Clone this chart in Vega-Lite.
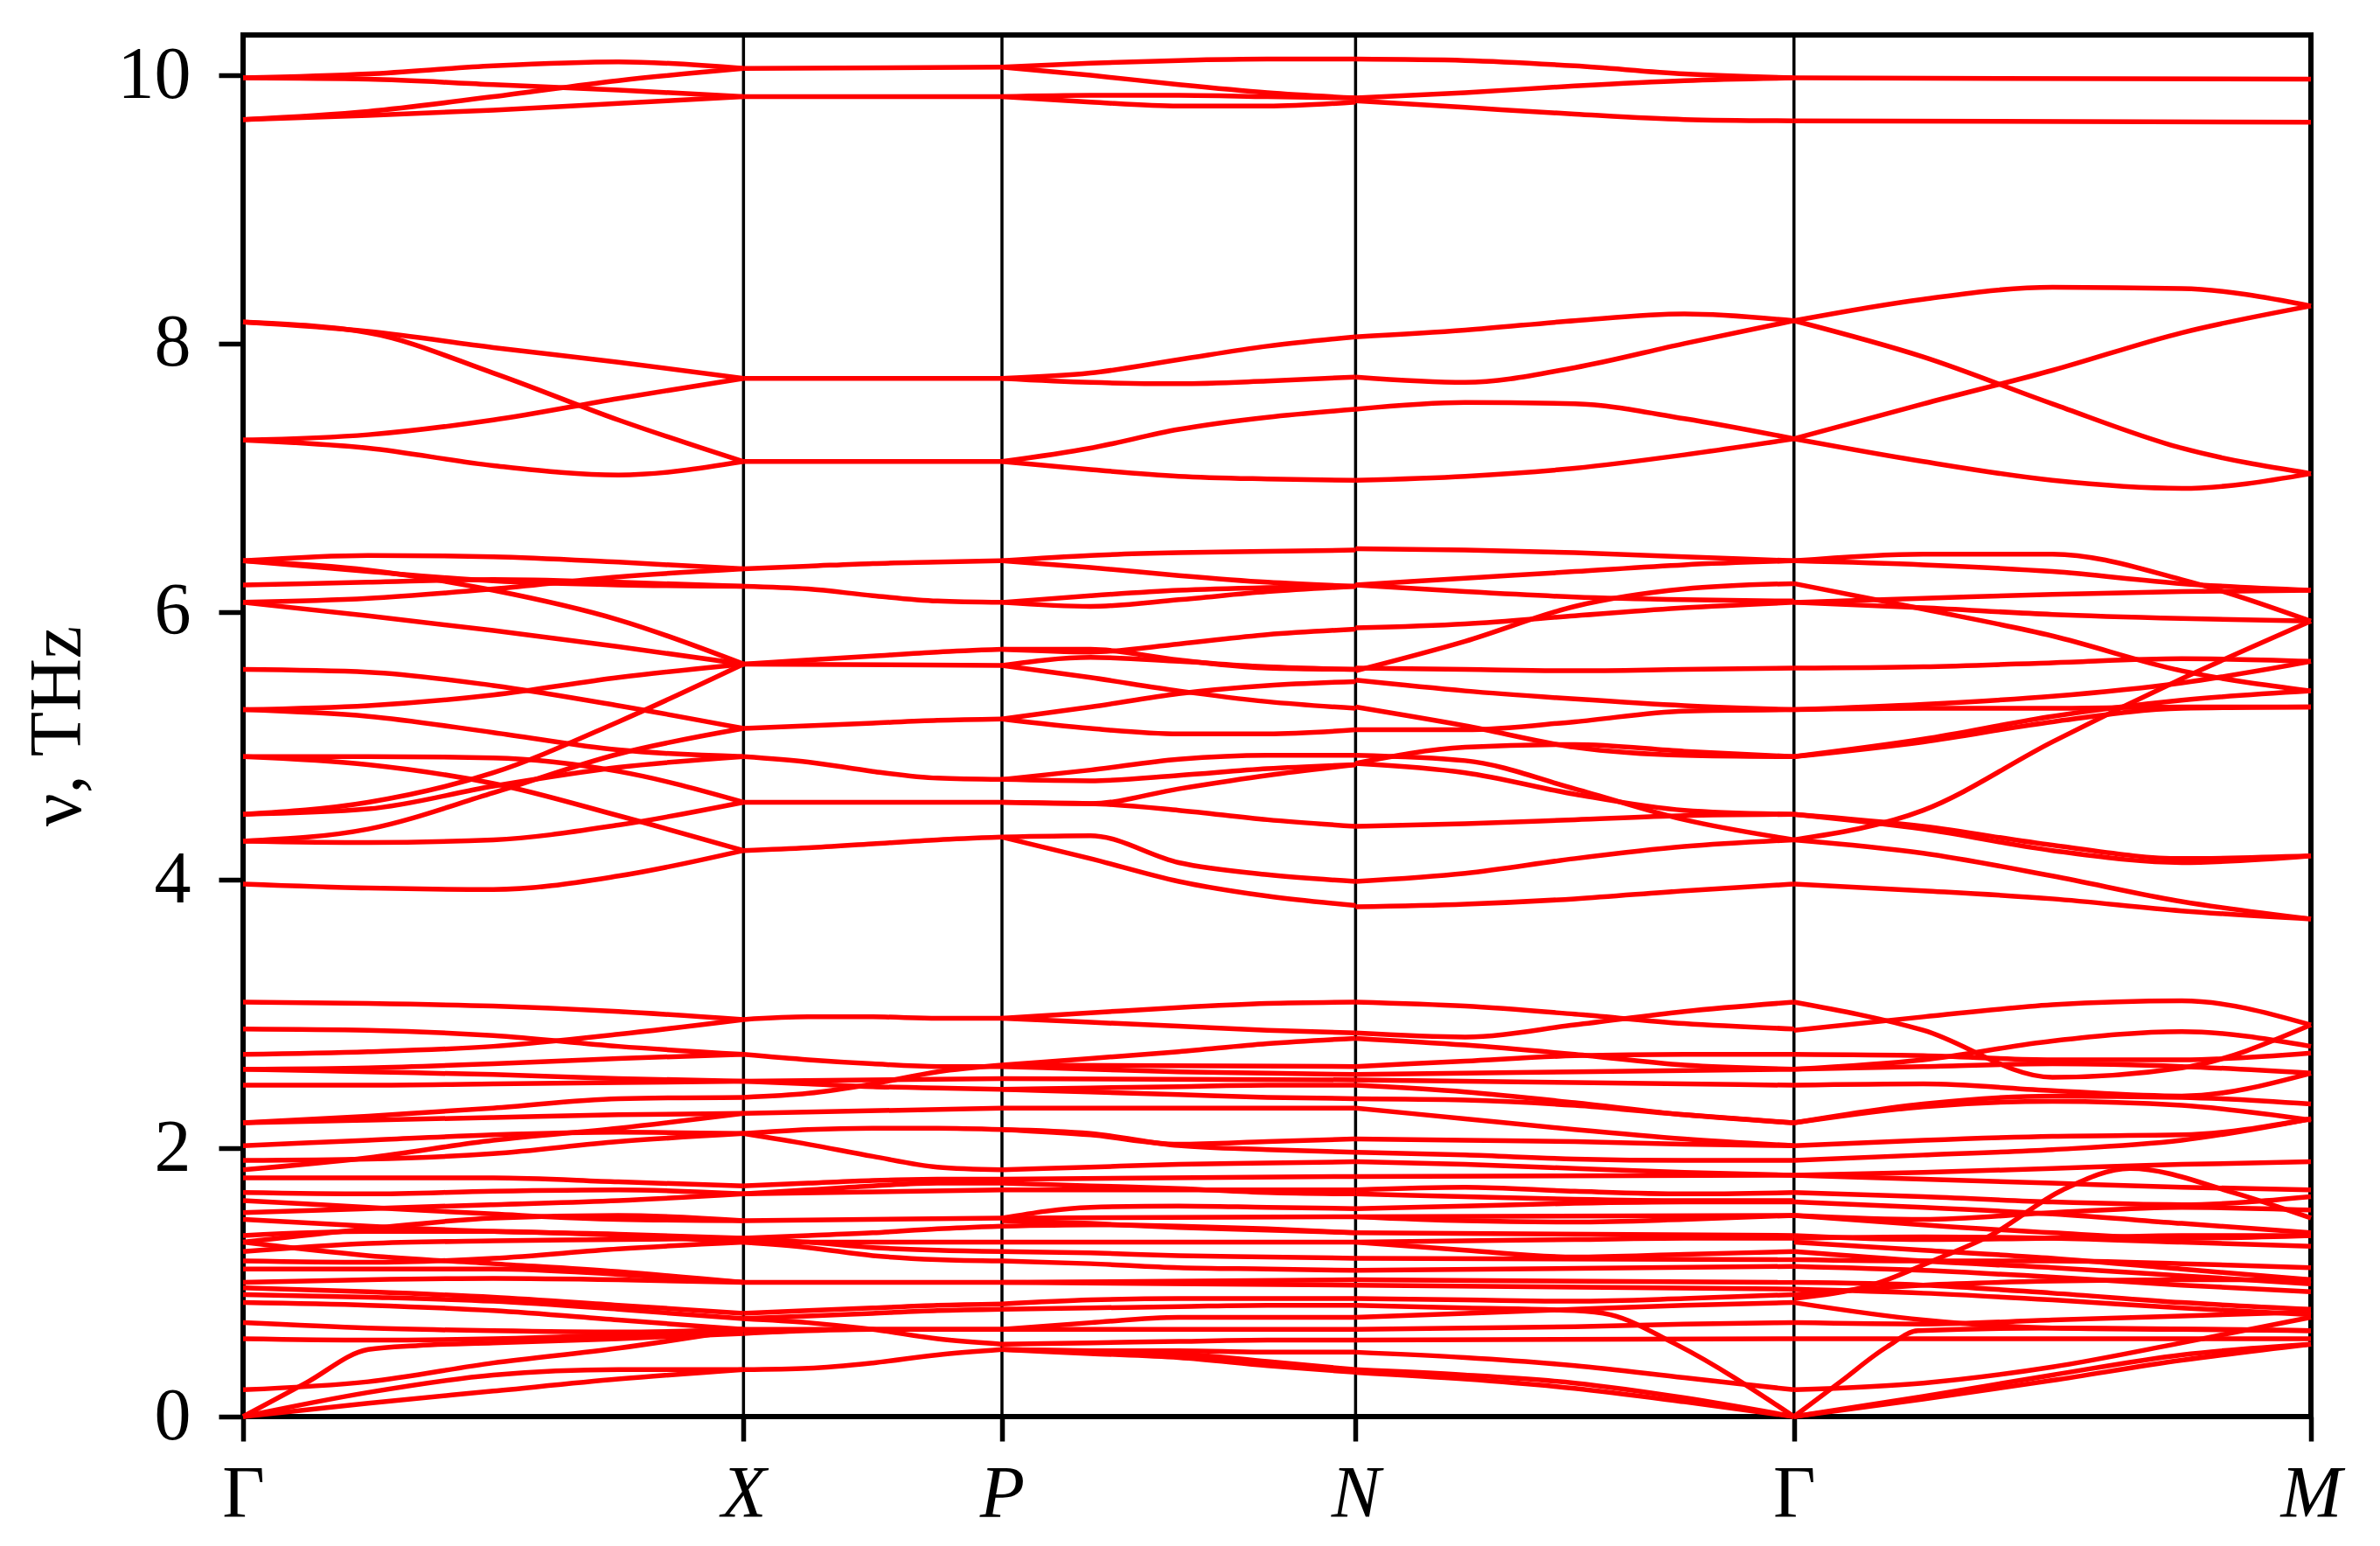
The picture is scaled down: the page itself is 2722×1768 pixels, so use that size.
{
"$schema": "https://vega.github.io/schema/vega-lite/v6.json",
"width": 2365, "height": 1580,
"autosize": {"type": "none"},
"padding": {"left": 278, "top": 40, "right": 79, "bottom": 148},
"background": "white",
"config": {"view": {"stroke": "black", "strokeWidth": 6}},
"datasets": {
"sym": [{"x":0.242},{"x":0.367},{"x":0.538},{"x":0.75}],
"bands": [
{"b":"A1","x":0,"y":9.98},{"b":"A1","x":0.0605,"y":10.01},{"b":"A1","x":0.121,"y":10.07},{"b":"A1","x":0.1815,"y":10.1},{"b":"A1","x":0.242,"y":10.05},
{"b":"A2","x":0,"y":9.98},{"b":"A2","x":0.0605,"y":9.97},{"b":"A2","x":0.121,"y":9.93},{"b":"A2","x":0.1815,"y":9.89},{"b":"A2","x":0.242,"y":9.84},
{"b":"A3","x":0,"y":9.67},{"b":"A3","x":0.0605,"y":9.73},{"b":"A3","x":0.121,"y":9.84},{"b":"A3","x":0.1815,"y":9.96},{"b":"A3","x":0.242,"y":10.05},
{"b":"A4","x":0,"y":9.67},{"b":"A4","x":0.0605,"y":9.7},{"b":"A4","x":0.121,"y":9.74},{"b":"A4","x":0.1815,"y":9.79},{"b":"A4","x":0.242,"y":9.84},
{"b":"A5","x":0.242,"y":10.05},{"b":"A5","x":0.367,"y":10.06},
{"b":"A6","x":0.242,"y":9.84},{"b":"A6","x":0.367,"y":9.84},
{"b":"A7","x":0.367,"y":10.06},{"b":"A7","x":0.4098,"y":10.09},{"b":"A7","x":0.4525,"y":10.11},{"b":"A7","x":0.4953,"y":10.12},{"b":"A7","x":0.538,"y":10.12},
{"b":"A8","x":0.367,"y":10.06},{"b":"A8","x":0.4098,"y":10.0},{"b":"A8","x":0.4525,"y":9.93},{"b":"A8","x":0.4953,"y":9.87},{"b":"A8","x":0.538,"y":9.83},
{"b":"A9","x":0.367,"y":9.84},{"b":"A9","x":0.4098,"y":9.85},{"b":"A9","x":0.4525,"y":9.85},{"b":"A9","x":0.4953,"y":9.84},{"b":"A9","x":0.538,"y":9.83},
{"b":"A10","x":0.367,"y":9.84},{"b":"A10","x":0.4098,"y":9.8},{"b":"A10","x":0.4525,"y":9.77},{"b":"A10","x":0.4953,"y":9.77},{"b":"A10","x":0.538,"y":9.8},
{"b":"A11","x":0.538,"y":10.12},{"b":"A11","x":0.591,"y":10.11},{"b":"A11","x":0.644,"y":10.07},{"b":"A11","x":0.697,"y":10.01},{"b":"A11","x":0.75,"y":9.98},
{"b":"A12","x":0.538,"y":9.83},{"b":"A12","x":0.591,"y":9.87},{"b":"A12","x":0.644,"y":9.92},{"b":"A12","x":0.697,"y":9.96},{"b":"A12","x":0.75,"y":9.98},
{"b":"A13","x":0.538,"y":9.81},{"b":"A13","x":0.591,"y":9.76},{"b":"A13","x":0.644,"y":9.71},{"b":"A13","x":0.697,"y":9.67},{"b":"A13","x":0.75,"y":9.66},
{"b":"A14","x":0.75,"y":9.98},{"b":"A14","x":1,"y":9.97},
{"b":"A15","x":0.75,"y":9.66},{"b":"A15","x":1,"y":9.65},
{"b":"B1","x":0,"y":8.16},{"b":"B1","x":0.0605,"y":8.09},{"b":"B1","x":0.121,"y":7.97},{"b":"B1","x":0.1815,"y":7.86},{"b":"B1","x":0.242,"y":7.74},
{"b":"B2","x":0,"y":8.16},{"b":"B2","x":0.0605,"y":8.08},{"b":"B2","x":0.121,"y":7.78},{"b":"B2","x":0.1815,"y":7.43},{"b":"B2","x":0.242,"y":7.12},
{"b":"B3","x":0,"y":7.28},{"b":"B3","x":0.0605,"y":7.32},{"b":"B3","x":0.121,"y":7.43},{"b":"B3","x":0.1815,"y":7.59},{"b":"B3","x":0.242,"y":7.74},
{"b":"B4","x":0,"y":7.28},{"b":"B4","x":0.0605,"y":7.22},{"b":"B4","x":0.121,"y":7.09},{"b":"B4","x":0.1815,"y":7.02},{"b":"B4","x":0.242,"y":7.12},
{"b":"B5","x":0.242,"y":7.74},{"b":"B5","x":0.367,"y":7.74},
{"b":"B6","x":0.242,"y":7.12},{"b":"B6","x":0.367,"y":7.12},
{"b":"B7","x":0.367,"y":7.74},{"b":"B7","x":0.4098,"y":7.78},{"b":"B7","x":0.4525,"y":7.88},{"b":"B7","x":0.4953,"y":7.98},{"b":"B7","x":0.538,"y":8.05},
{"b":"B8","x":0.367,"y":7.74},{"b":"B8","x":0.4098,"y":7.71},{"b":"B8","x":0.4525,"y":7.7},{"b":"B8","x":0.4953,"y":7.72},{"b":"B8","x":0.538,"y":7.75},
{"b":"B9","x":0.367,"y":7.12},{"b":"B9","x":0.4098,"y":7.22},{"b":"B9","x":0.4525,"y":7.36},{"b":"B9","x":0.4953,"y":7.45},{"b":"B9","x":0.538,"y":7.51},
{"b":"B10","x":0.367,"y":7.12},{"b":"B10","x":0.4098,"y":7.06},{"b":"B10","x":0.4525,"y":7.01},{"b":"B10","x":0.4953,"y":6.99},{"b":"B10","x":0.538,"y":6.98},
{"b":"B11","x":0.538,"y":8.05},{"b":"B11","x":0.591,"y":8.1},{"b":"B11","x":0.644,"y":8.17},{"b":"B11","x":0.697,"y":8.22},{"b":"B11","x":0.75,"y":8.17},
{"b":"B12","x":0.538,"y":7.75},{"b":"B12","x":0.591,"y":7.71},{"b":"B12","x":0.644,"y":7.82},{"b":"B12","x":0.697,"y":8.0},{"b":"B12","x":0.75,"y":8.17},
{"b":"B13","x":0.538,"y":7.51},{"b":"B13","x":0.591,"y":7.56},{"b":"B13","x":0.644,"y":7.55},{"b":"B13","x":0.697,"y":7.44},{"b":"B13","x":0.75,"y":7.29},
{"b":"B14","x":0.538,"y":6.98},{"b":"B14","x":0.591,"y":7.01},{"b":"B14","x":0.644,"y":7.07},{"b":"B14","x":0.697,"y":7.17},{"b":"B14","x":0.75,"y":7.29},
{"b":"B15","x":0.75,"y":8.17},{"b":"B15","x":0.8125,"y":8.33},{"b":"B15","x":0.875,"y":8.42},{"b":"B15","x":0.9375,"y":8.41},{"b":"B15","x":1,"y":8.28},
{"b":"B16","x":0.75,"y":8.17},{"b":"B16","x":0.8125,"y":7.9},{"b":"B16","x":0.875,"y":7.55},{"b":"B16","x":0.9375,"y":7.22},{"b":"B16","x":1,"y":7.03},
{"b":"B17","x":0.75,"y":7.29},{"b":"B17","x":0.8125,"y":7.55},{"b":"B17","x":0.875,"y":7.8},{"b":"B17","x":0.9375,"y":8.08},{"b":"B17","x":1,"y":8.28},
{"b":"B18","x":0.75,"y":7.29},{"b":"B18","x":0.8125,"y":7.12},{"b":"B18","x":0.875,"y":6.98},{"b":"B18","x":0.9375,"y":6.92},{"b":"B18","x":1,"y":7.03},
{"b":"C1","x":0,"y":6.38},{"b":"C1","x":0.0605,"y":6.42},{"b":"C1","x":0.121,"y":6.41},{"b":"C1","x":0.1815,"y":6.37},{"b":"C1","x":0.242,"y":6.32},
{"b":"C2","x":0,"y":6.38},{"b":"C2","x":0.0605,"y":6.3},{"b":"C2","x":0.121,"y":6.23},{"b":"C2","x":0.1815,"y":6.2},{"b":"C2","x":0.242,"y":6.19},
{"b":"C3","x":0,"y":6.38},{"b":"C3","x":0.0605,"y":6.31},{"b":"C3","x":0.121,"y":6.16},{"b":"C3","x":0.1815,"y":5.94},{"b":"C3","x":0.242,"y":5.61},
{"b":"C4","x":0,"y":6.2},{"b":"C4","x":0.0605,"y":6.22},{"b":"C4","x":0.121,"y":6.24},{"b":"C4","x":0.1815,"y":6.22},{"b":"C4","x":0.242,"y":6.19},
{"b":"C5","x":0,"y":6.07},{"b":"C5","x":0.0605,"y":6.1},{"b":"C5","x":0.121,"y":6.17},{"b":"C5","x":0.1815,"y":6.26},{"b":"C5","x":0.242,"y":6.32},
{"b":"C6","x":0,"y":6.07},{"b":"C6","x":0.0605,"y":5.97},{"b":"C6","x":0.121,"y":5.86},{"b":"C6","x":0.1815,"y":5.74},{"b":"C6","x":0.242,"y":5.61},
{"b":"C7","x":0,"y":5.57},{"b":"C7","x":0.0605,"y":5.55},{"b":"C7","x":0.121,"y":5.45},{"b":"C7","x":0.1815,"y":5.3},{"b":"C7","x":0.242,"y":5.13},
{"b":"C8","x":0,"y":5.27},{"b":"C8","x":0.0605,"y":5.3},{"b":"C8","x":0.121,"y":5.38},{"b":"C8","x":0.1815,"y":5.51},{"b":"C8","x":0.242,"y":5.61},
{"b":"C9","x":0,"y":5.27},{"b":"C9","x":0.0605,"y":5.22},{"b":"C9","x":0.121,"y":5.1},{"b":"C9","x":0.1815,"y":4.97},{"b":"C9","x":0.242,"y":4.92},
{"b":"C10","x":0,"y":4.92},{"b":"C10","x":0.0605,"y":4.92},{"b":"C10","x":0.121,"y":4.91},{"b":"C10","x":0.1815,"y":4.81},{"b":"C10","x":0.242,"y":4.58},
{"b":"C11","x":0,"y":4.92},{"b":"C11","x":0.0605,"y":4.86},{"b":"C11","x":0.121,"y":4.72},{"b":"C11","x":0.1815,"y":4.48},{"b":"C11","x":0.242,"y":4.22},
{"b":"C12","x":0,"y":4.49},{"b":"C12","x":0.0605,"y":4.58},{"b":"C12","x":0.121,"y":4.8},{"b":"C12","x":0.1815,"y":5.18},{"b":"C12","x":0.242,"y":5.61},
{"b":"C13","x":0,"y":4.49},{"b":"C13","x":0.0605,"y":4.53},{"b":"C13","x":0.121,"y":4.7},{"b":"C13","x":0.1815,"y":4.84},{"b":"C13","x":0.242,"y":4.92},
{"b":"C14","x":0,"y":4.29},{"b":"C14","x":0.0605,"y":4.38},{"b":"C14","x":0.121,"y":4.65},{"b":"C14","x":0.1815,"y":4.94},{"b":"C14","x":0.242,"y":5.13},
{"b":"C15","x":0,"y":4.29},{"b":"C15","x":0.0605,"y":4.28},{"b":"C15","x":0.121,"y":4.3},{"b":"C15","x":0.1815,"y":4.41},{"b":"C15","x":0.242,"y":4.58},
{"b":"C16","x":0,"y":3.97},{"b":"C16","x":0.0605,"y":3.94},{"b":"C16","x":0.121,"y":3.93},{"b":"C16","x":0.1815,"y":4.03},{"b":"C16","x":0.242,"y":4.22},
{"b":"C17","x":0.242,"y":6.32},{"b":"C17","x":0.2733,"y":6.34},{"b":"C17","x":0.3045,"y":6.36},{"b":"C17","x":0.3358,"y":6.37},{"b":"C17","x":0.367,"y":6.38},
{"b":"C18","x":0.242,"y":6.19},{"b":"C18","x":0.2733,"y":6.17},{"b":"C18","x":0.3045,"y":6.12},{"b":"C18","x":0.3358,"y":6.08},{"b":"C18","x":0.367,"y":6.07},
{"b":"C19","x":0.242,"y":5.61},{"b":"C19","x":0.2733,"y":5.64},{"b":"C19","x":0.3045,"y":5.67},{"b":"C19","x":0.3358,"y":5.7},{"b":"C19","x":0.367,"y":5.72},
{"b":"C20","x":0.242,"y":5.61},{"b":"C20","x":0.367,"y":5.6},
{"b":"C21","x":0.242,"y":5.13},{"b":"C21","x":0.2733,"y":5.15},{"b":"C21","x":0.3045,"y":5.17},{"b":"C21","x":0.3358,"y":5.19},{"b":"C21","x":0.367,"y":5.2},
{"b":"C22","x":0.242,"y":4.92},{"b":"C22","x":0.2733,"y":4.88},{"b":"C22","x":0.3045,"y":4.81},{"b":"C22","x":0.3358,"y":4.76},{"b":"C22","x":0.367,"y":4.75},
{"b":"C23","x":0.242,"y":4.58},{"b":"C23","x":0.367,"y":4.58},
{"b":"C24","x":0.242,"y":4.22},{"b":"C24","x":0.2733,"y":4.24},{"b":"C24","x":0.3045,"y":4.27},{"b":"C24","x":0.3358,"y":4.3},{"b":"C24","x":0.367,"y":4.32},
{"b":"C25","x":0.367,"y":6.38},{"b":"C25","x":0.4098,"y":6.42},{"b":"C25","x":0.4525,"y":6.44},{"b":"C25","x":0.4953,"y":6.45},{"b":"C25","x":0.538,"y":6.46},
{"b":"C26","x":0.367,"y":6.38},{"b":"C26","x":0.4098,"y":6.33},{"b":"C26","x":0.4525,"y":6.27},{"b":"C26","x":0.4953,"y":6.22},{"b":"C26","x":0.538,"y":6.19},
{"b":"C27","x":0.367,"y":6.07},{"b":"C27","x":0.4098,"y":6.12},{"b":"C27","x":0.4525,"y":6.16},{"b":"C27","x":0.4953,"y":6.18},{"b":"C27","x":0.538,"y":6.19},
{"b":"C28","x":0.367,"y":6.07},{"b":"C28","x":0.4098,"y":6.04},{"b":"C28","x":0.4525,"y":6.09},{"b":"C28","x":0.4953,"y":6.15},{"b":"C28","x":0.538,"y":6.19},
{"b":"C29","x":0.367,"y":5.72},{"b":"C29","x":0.4098,"y":5.72},{"b":"C29","x":0.4525,"y":5.64},{"b":"C29","x":0.4953,"y":5.58},{"b":"C29","x":0.538,"y":5.57},
{"b":"C30","x":0.367,"y":5.72},{"b":"C30","x":0.4098,"y":5.7},{"b":"C30","x":0.4525,"y":5.76},{"b":"C30","x":0.4953,"y":5.83},{"b":"C30","x":0.538,"y":5.87},
{"b":"C31","x":0.367,"y":5.6},{"b":"C31","x":0.4098,"y":5.66},{"b":"C31","x":0.4525,"y":5.63},{"b":"C31","x":0.4953,"y":5.59},{"b":"C31","x":0.538,"y":5.57},
{"b":"C32","x":0.367,"y":5.6},{"b":"C32","x":0.4098,"y":5.51},{"b":"C32","x":0.4525,"y":5.41},{"b":"C32","x":0.4953,"y":5.33},{"b":"C32","x":0.538,"y":5.28},
{"b":"C33","x":0.367,"y":5.2},{"b":"C33","x":0.4098,"y":5.29},{"b":"C33","x":0.4525,"y":5.39},{"b":"C33","x":0.4953,"y":5.45},{"b":"C33","x":0.538,"y":5.48},
{"b":"C34","x":0.367,"y":5.2},{"b":"C34","x":0.4098,"y":5.13},{"b":"C34","x":0.4525,"y":5.09},{"b":"C34","x":0.4953,"y":5.09},{"b":"C34","x":0.538,"y":5.12},
{"b":"C35","x":0.367,"y":4.75},{"b":"C35","x":0.4098,"y":4.82},{"b":"C35","x":0.4525,"y":4.9},{"b":"C35","x":0.4953,"y":4.93},{"b":"C35","x":0.538,"y":4.93},
{"b":"C36","x":0.367,"y":4.75},{"b":"C36","x":0.4098,"y":4.74},{"b":"C36","x":0.4525,"y":4.78},{"b":"C36","x":0.4953,"y":4.83},{"b":"C36","x":0.538,"y":4.86},
{"b":"C37","x":0.367,"y":4.58},{"b":"C37","x":0.4098,"y":4.57},{"b":"C37","x":0.4525,"y":4.52},{"b":"C37","x":0.4953,"y":4.45},{"b":"C37","x":0.538,"y":4.4},
{"b":"C38","x":0.367,"y":4.58},{"b":"C38","x":0.4098,"y":4.57},{"b":"C38","x":0.4525,"y":4.68},{"b":"C38","x":0.4953,"y":4.78},{"b":"C38","x":0.538,"y":4.86},
{"b":"C39","x":0.367,"y":4.32},{"b":"C39","x":0.4098,"y":4.33},{"b":"C39","x":0.4525,"y":4.13},{"b":"C39","x":0.4953,"y":4.04},{"b":"C39","x":0.538,"y":3.99},
{"b":"C40","x":0.367,"y":4.32},{"b":"C40","x":0.4098,"y":4.16},{"b":"C40","x":0.4525,"y":3.99},{"b":"C40","x":0.4953,"y":3.88},{"b":"C40","x":0.538,"y":3.81},
{"b":"C41","x":0.538,"y":6.47},{"b":"C41","x":0.591,"y":6.46},{"b":"C41","x":0.644,"y":6.44},{"b":"C41","x":0.697,"y":6.41},{"b":"C41","x":0.75,"y":6.38},
{"b":"C42","x":0.538,"y":6.2},{"b":"C42","x":0.591,"y":6.25},{"b":"C42","x":0.644,"y":6.3},{"b":"C42","x":0.697,"y":6.35},{"b":"C42","x":0.75,"y":6.38},
{"b":"C43","x":0.538,"y":6.2},{"b":"C43","x":0.591,"y":6.15},{"b":"C43","x":0.644,"y":6.11},{"b":"C43","x":0.697,"y":6.09},{"b":"C43","x":0.75,"y":6.08},
{"b":"C44","x":0.538,"y":5.88},{"b":"C44","x":0.591,"y":5.91},{"b":"C44","x":0.644,"y":5.97},{"b":"C44","x":0.697,"y":6.03},{"b":"C44","x":0.75,"y":6.07},
{"b":"C45","x":0.538,"y":5.58},{"b":"C45","x":0.591,"y":5.57},{"b":"C45","x":0.644,"y":5.56},{"b":"C45","x":0.697,"y":5.57},{"b":"C45","x":0.75,"y":5.58},
{"b":"C46","x":0.538,"y":5.56},{"b":"C46","x":0.591,"y":5.78},{"b":"C46","x":0.644,"y":6.04},{"b":"C46","x":0.697,"y":6.17},{"b":"C46","x":0.75,"y":6.21},
{"b":"C47","x":0.538,"y":5.49},{"b":"C47","x":0.591,"y":5.41},{"b":"C47","x":0.644,"y":5.35},{"b":"C47","x":0.697,"y":5.3},{"b":"C47","x":0.75,"y":5.27},
{"b":"C48","x":0.538,"y":5.29},{"b":"C48","x":0.591,"y":5.15},{"b":"C48","x":0.644,"y":4.99},{"b":"C48","x":0.697,"y":4.93},{"b":"C48","x":0.75,"y":4.92},
{"b":"C49","x":0.538,"y":5.12},{"b":"C49","x":0.591,"y":5.12},{"b":"C49","x":0.644,"y":5.18},{"b":"C49","x":0.697,"y":5.26},{"b":"C49","x":0.75,"y":5.27},
{"b":"C50","x":0.538,"y":4.93},{"b":"C50","x":0.591,"y":4.89},{"b":"C50","x":0.644,"y":4.68},{"b":"C50","x":0.697,"y":4.45},{"b":"C50","x":0.75,"y":4.3},
{"b":"C51","x":0.538,"y":4.87},{"b":"C51","x":0.591,"y":4.99},{"b":"C51","x":0.644,"y":5.01},{"b":"C51","x":0.697,"y":4.96},{"b":"C51","x":0.75,"y":4.92},
{"b":"C52","x":0.538,"y":4.87},{"b":"C52","x":0.591,"y":4.8},{"b":"C52","x":0.644,"y":4.64},{"b":"C52","x":0.697,"y":4.52},{"b":"C52","x":0.75,"y":4.49},
{"b":"C53","x":0.538,"y":4.4},{"b":"C53","x":0.591,"y":4.42},{"b":"C53","x":0.644,"y":4.45},{"b":"C53","x":0.697,"y":4.48},{"b":"C53","x":0.75,"y":4.49},
{"b":"C54","x":0.538,"y":3.99},{"b":"C54","x":0.591,"y":4.05},{"b":"C54","x":0.644,"y":4.16},{"b":"C54","x":0.697,"y":4.25},{"b":"C54","x":0.75,"y":4.3},
{"b":"C55","x":0.538,"y":3.8},{"b":"C55","x":0.591,"y":3.82},{"b":"C55","x":0.644,"y":3.86},{"b":"C55","x":0.697,"y":3.92},{"b":"C55","x":0.75,"y":3.97},
{"b":"C56","x":0.75,"y":6.38},{"b":"C56","x":0.8125,"y":6.43},{"b":"C56","x":0.875,"y":6.43},{"b":"C56","x":0.9375,"y":6.24},{"b":"C56","x":1,"y":5.93},
{"b":"C57","x":0.75,"y":6.38},{"b":"C57","x":0.8125,"y":6.35},{"b":"C57","x":0.875,"y":6.3},{"b":"C57","x":0.9375,"y":6.21},{"b":"C57","x":1,"y":6.16},
{"b":"C58","x":0.75,"y":6.21},{"b":"C58","x":0.8125,"y":6.02},{"b":"C58","x":0.875,"y":5.82},{"b":"C58","x":0.9375,"y":5.56},{"b":"C58","x":1,"y":5.41},
{"b":"C59","x":0.75,"y":6.07},{"b":"C59","x":0.8125,"y":6.03},{"b":"C59","x":0.875,"y":5.98},{"b":"C59","x":0.9375,"y":5.95},{"b":"C59","x":1,"y":5.93},
{"b":"C60","x":0.75,"y":6.07},{"b":"C60","x":0.8125,"y":6.1},{"b":"C60","x":0.875,"y":6.13},{"b":"C60","x":0.9375,"y":6.15},{"b":"C60","x":1,"y":6.16},
{"b":"C61","x":0.75,"y":5.58},{"b":"C61","x":0.8125,"y":5.59},{"b":"C61","x":0.875,"y":5.62},{"b":"C61","x":0.9375,"y":5.65},{"b":"C61","x":1,"y":5.63},
{"b":"C62","x":0.75,"y":5.27},{"b":"C62","x":0.8125,"y":5.31},{"b":"C62","x":0.875,"y":5.37},{"b":"C62","x":0.9375,"y":5.47},{"b":"C62","x":1,"y":5.63},
{"b":"C63","x":0.75,"y":5.27},{"b":"C63","x":0.8125,"y":5.28},{"b":"C63","x":0.875,"y":5.28},{"b":"C63","x":0.9375,"y":5.29},{"b":"C63","x":1,"y":5.29},
{"b":"C64","x":0.75,"y":4.92},{"b":"C64","x":0.8125,"y":5.03},{"b":"C64","x":0.875,"y":5.18},{"b":"C64","x":0.9375,"y":5.28},{"b":"C64","x":1,"y":5.29},
{"b":"C65","x":0.75,"y":4.92},{"b":"C65","x":0.8125,"y":5.05},{"b":"C65","x":0.875,"y":5.22},{"b":"C65","x":0.9375,"y":5.34},{"b":"C65","x":1,"y":5.41},
{"b":"C66","x":0.75,"y":4.3},{"b":"C66","x":0.8125,"y":4.52},{"b":"C66","x":0.875,"y":5.03},{"b":"C66","x":0.9375,"y":5.5},{"b":"C66","x":1,"y":5.93},
{"b":"C67","x":0.75,"y":4.49},{"b":"C67","x":0.8125,"y":4.38},{"b":"C67","x":0.875,"y":4.22},{"b":"C67","x":0.9375,"y":4.13},{"b":"C67","x":1,"y":4.18},
{"b":"C68","x":0.75,"y":4.49},{"b":"C68","x":0.8125,"y":4.4},{"b":"C68","x":0.875,"y":4.26},{"b":"C68","x":0.9375,"y":4.16},{"b":"C68","x":1,"y":4.18},
{"b":"C69","x":0.75,"y":4.3},{"b":"C69","x":0.8125,"y":4.2},{"b":"C69","x":0.875,"y":4.03},{"b":"C69","x":0.9375,"y":3.84},{"b":"C69","x":1,"y":3.71},
{"b":"C70","x":0.75,"y":3.97},{"b":"C70","x":0.8125,"y":3.92},{"b":"C70","x":0.875,"y":3.86},{"b":"C70","x":0.9375,"y":3.77},{"b":"C70","x":1,"y":3.71},
{"b":"D1","x":0,"y":3.09},{"b":"D1","x":0.0605,"y":3.08},{"b":"D1","x":0.121,"y":3.06},{"b":"D1","x":0.1815,"y":3.02},{"b":"D1","x":0.242,"y":2.96},
{"b":"D2","x":0,"y":2.89},{"b":"D2","x":0.0605,"y":2.88},{"b":"D2","x":0.121,"y":2.84},{"b":"D2","x":0.1815,"y":2.76},{"b":"D2","x":0.242,"y":2.7},
{"b":"D3","x":0,"y":2.7},{"b":"D3","x":0.0605,"y":2.72},{"b":"D3","x":0.121,"y":2.76},{"b":"D3","x":0.1815,"y":2.85},{"b":"D3","x":0.242,"y":2.96},
{"b":"D4","x":0,"y":2.59},{"b":"D4","x":0.0605,"y":2.6},{"b":"D4","x":0.121,"y":2.63},{"b":"D4","x":0.1815,"y":2.67},{"b":"D4","x":0.242,"y":2.7},
{"b":"D5","x":0,"y":2.59},{"b":"D5","x":0.0605,"y":2.57},{"b":"D5","x":0.121,"y":2.55},{"b":"D5","x":0.1815,"y":2.52},{"b":"D5","x":0.242,"y":2.5},
{"b":"D6","x":0,"y":2.47},{"b":"D6","x":0.0605,"y":2.47},{"b":"D6","x":0.121,"y":2.48},{"b":"D6","x":0.1815,"y":2.49},{"b":"D6","x":0.242,"y":2.5},
{"b":"D7","x":0,"y":2.19},{"b":"D7","x":0.0605,"y":2.24},{"b":"D7","x":0.121,"y":2.3},{"b":"D7","x":0.1815,"y":2.37},{"b":"D7","x":0.242,"y":2.38},
{"b":"D8","x":0,"y":2.19},{"b":"D8","x":0.0605,"y":2.21},{"b":"D8","x":0.121,"y":2.23},{"b":"D8","x":0.1815,"y":2.25},{"b":"D8","x":0.242,"y":2.26},
{"b":"D9","x":0,"y":2.02},{"b":"D9","x":0.0605,"y":2.06},{"b":"D9","x":0.121,"y":2.1},{"b":"D9","x":0.1815,"y":2.12},{"b":"D9","x":0.242,"y":2.11},
{"b":"D10","x":0,"y":1.91},{"b":"D10","x":0.0605,"y":1.92},{"b":"D10","x":0.121,"y":1.96},{"b":"D10","x":0.1815,"y":2.05},{"b":"D10","x":0.242,"y":2.11},
{"b":"D11","x":0,"y":1.84},{"b":"D11","x":0.0605,"y":1.93},{"b":"D11","x":0.121,"y":2.06},{"b":"D11","x":0.1815,"y":2.15},{"b":"D11","x":0.242,"y":2.26},
{"b":"D12","x":0,"y":1.78},{"b":"D12","x":0.0605,"y":1.78},{"b":"D12","x":0.121,"y":1.78},{"b":"D12","x":0.1815,"y":1.75},{"b":"D12","x":0.242,"y":1.72},
{"b":"D13","x":0,"y":1.67},{"b":"D13","x":0.0605,"y":1.66},{"b":"D13","x":0.121,"y":1.68},{"b":"D13","x":0.1815,"y":1.69},{"b":"D13","x":0.242,"y":1.66},
{"b":"D14","x":0,"y":1.61},{"b":"D14","x":0.0605,"y":1.56},{"b":"D14","x":0.121,"y":1.51},{"b":"D14","x":0.1815,"y":1.47},{"b":"D14","x":0.242,"y":1.46},
{"b":"D15","x":0,"y":1.52},{"b":"D15","x":0.0605,"y":1.55},{"b":"D15","x":0.121,"y":1.58},{"b":"D15","x":0.1815,"y":1.61},{"b":"D15","x":0.242,"y":1.66},
{"b":"D16","x":0,"y":1.47},{"b":"D16","x":0.0605,"y":1.42},{"b":"D16","x":0.121,"y":1.38},{"b":"D16","x":0.1815,"y":1.36},{"b":"D16","x":0.242,"y":1.33},
{"b":"D17","x":0,"y":1.35},{"b":"D17","x":0.0605,"y":1.38},{"b":"D17","x":0.121,"y":1.38},{"b":"D17","x":0.1815,"y":1.35},{"b":"D17","x":0.242,"y":1.3},
{"b":"D18","x":0,"y":1.3},{"b":"D18","x":0.0605,"y":1.4},{"b":"D18","x":0.121,"y":1.48},{"b":"D18","x":0.1815,"y":1.5},{"b":"D18","x":0.242,"y":1.46},
{"b":"D19","x":0,"y":1.3},{"b":"D19","x":0.0605,"y":1.2},{"b":"D19","x":0.121,"y":1.14},{"b":"D19","x":0.1815,"y":1.08},{"b":"D19","x":0.242,"y":1.0},
{"b":"D20","x":0,"y":1.23},{"b":"D20","x":0.0605,"y":1.29},{"b":"D20","x":0.121,"y":1.31},{"b":"D20","x":0.1815,"y":1.32},{"b":"D20","x":0.242,"y":1.33},
{"b":"D21","x":0,"y":1.16},{"b":"D21","x":0.0605,"y":1.15},{"b":"D21","x":0.121,"y":1.18},{"b":"D21","x":0.1815,"y":1.25},{"b":"D21","x":0.242,"y":1.3},
{"b":"D22","x":0,"y":1.1},{"b":"D22","x":0.0605,"y":1.1},{"b":"D22","x":0.121,"y":1.1},{"b":"D22","x":0.1815,"y":1.06},{"b":"D22","x":0.242,"y":1.0},
{"b":"D23","x":0,"y":1.0},{"b":"D23","x":0.0605,"y":1.02},{"b":"D23","x":0.121,"y":1.03},{"b":"D23","x":0.1815,"y":1.02},{"b":"D23","x":0.242,"y":1.0},
{"b":"D24","x":0,"y":0.96},{"b":"D24","x":0.0605,"y":0.93},{"b":"D24","x":0.121,"y":0.89},{"b":"D24","x":0.1815,"y":0.83},{"b":"D24","x":0.242,"y":0.77},
{"b":"D25","x":0,"y":0.91},{"b":"D25","x":0.0605,"y":0.89},{"b":"D25","x":0.121,"y":0.86},{"b":"D25","x":0.1815,"y":0.8},{"b":"D25","x":0.242,"y":0.73},
{"b":"D26","x":0,"y":0.85},{"b":"D26","x":0.0605,"y":0.83},{"b":"D26","x":0.121,"y":0.79},{"b":"D26","x":0.1815,"y":0.72},{"b":"D26","x":0.242,"y":0.65},
{"b":"D27","x":0,"y":0.7},{"b":"D27","x":0.0605,"y":0.66},{"b":"D27","x":0.121,"y":0.64},{"b":"D27","x":0.1815,"y":0.63},{"b":"D27","x":0.242,"y":0.65},
{"b":"D28","x":0,"y":0.58},{"b":"D28","x":0.0605,"y":0.57},{"b":"D28","x":0.121,"y":0.58},{"b":"D28","x":0.1815,"y":0.61},{"b":"D28","x":0.242,"y":0.65},
{"b":"D29","x":0,"y":0.2},{"b":"D29","x":0.0605,"y":0.26},{"b":"D29","x":0.121,"y":0.4},{"b":"D29","x":0.1815,"y":0.51},{"b":"D29","x":0.242,"y":0.65},
{"b":"D30","x":0,"y":0},{"b":"D30","x":0.0303,"y":0.25},{"b":"D30","x":0.0605,"y":0.5},{"b":"D30","x":0.0847,"y":0.53},{"b":"D30","x":0.121,"y":0.55},{"b":"D30","x":0.1815,"y":0.58},{"b":"D30","x":0.242,"y":0.62},
{"b":"D31","x":0,"y":0},{"b":"D31","x":0.0605,"y":0.18},{"b":"D31","x":0.121,"y":0.31},{"b":"D31","x":0.1815,"y":0.35},{"b":"D31","x":0.242,"y":0.35},
{"b":"D32","x":0,"y":0},{"b":"D32","x":0.0605,"y":0.1},{"b":"D32","x":0.121,"y":0.19},{"b":"D32","x":0.1815,"y":0.28},{"b":"D32","x":0.242,"y":0.35},
{"b":"E1","x":0.242,"y":2.96},{"b":"E1","x":0.2733,"y":2.98},{"b":"E1","x":0.3045,"y":2.98},{"b":"E1","x":0.3358,"y":2.97},{"b":"E1","x":0.367,"y":2.97},
{"b":"E2","x":0.242,"y":2.7},{"b":"E2","x":0.2733,"y":2.66},{"b":"E2","x":0.3045,"y":2.63},{"b":"E2","x":0.3358,"y":2.61},{"b":"E2","x":0.367,"y":2.61},
{"b":"E3","x":0.242,"y":2.5},{"b":"E3","x":0.367,"y":2.52},
{"b":"E4","x":0.242,"y":2.5},{"b":"E4","x":0.2733,"y":2.48},{"b":"E4","x":0.3045,"y":2.46},{"b":"E4","x":0.3358,"y":2.45},{"b":"E4","x":0.367,"y":2.44},
{"b":"E5","x":0.242,"y":2.38},{"b":"E5","x":0.2733,"y":2.41},{"b":"E5","x":0.3045,"y":2.48},{"b":"E5","x":0.3358,"y":2.57},{"b":"E5","x":0.367,"y":2.62},
{"b":"E6","x":0.242,"y":2.26},{"b":"E6","x":0.367,"y":2.3},
{"b":"E7","x":0.242,"y":2.11},{"b":"E7","x":0.2733,"y":2.14},{"b":"E7","x":0.3045,"y":2.15},{"b":"E7","x":0.3358,"y":2.15},{"b":"E7","x":0.367,"y":2.14},
{"b":"E8","x":0.242,"y":2.11},{"b":"E8","x":0.2733,"y":2.03},{"b":"E8","x":0.3045,"y":1.94},{"b":"E8","x":0.3358,"y":1.86},{"b":"E8","x":0.367,"y":1.84},
{"b":"E9","x":0.242,"y":1.72},{"b":"E9","x":0.2733,"y":1.74},{"b":"E9","x":0.3045,"y":1.76},{"b":"E9","x":0.3358,"y":1.77},{"b":"E9","x":0.367,"y":1.77},
{"b":"E10","x":0.242,"y":1.66},{"b":"E10","x":0.367,"y":1.69},
{"b":"E10b","x":0.242,"y":1.66},{"b":"E10b","x":0.2733,"y":1.69},{"b":"E10b","x":0.3045,"y":1.72},{"b":"E10b","x":0.3358,"y":1.74},{"b":"E10b","x":0.367,"y":1.74},
{"b":"E11","x":0.242,"y":1.46},{"b":"E11","x":0.367,"y":1.48},
{"b":"E13","x":0.242,"y":1.33},{"b":"E13","x":0.2733,"y":1.35},{"b":"E13","x":0.3045,"y":1.37},{"b":"E13","x":0.3358,"y":1.4},{"b":"E13","x":0.367,"y":1.42},
{"b":"E14","x":0.242,"y":1.3},{"b":"E14","x":0.367,"y":1.3},
{"b":"E15","x":0.242,"y":1.3},{"b":"E15","x":0.2733,"y":1.26},{"b":"E15","x":0.3045,"y":1.2},{"b":"E15","x":0.3358,"y":1.17},{"b":"E15","x":0.367,"y":1.16},
{"b":"E16","x":0.242,"y":1.33},{"b":"E16","x":0.2733,"y":1.3},{"b":"E16","x":0.3045,"y":1.26},{"b":"E16","x":0.3358,"y":1.24},{"b":"E16","x":0.367,"y":1.23},
{"b":"E17","x":0.242,"y":1.0},{"b":"E17","x":0.367,"y":1.0},
{"b":"E18","x":0.242,"y":0.77},{"b":"E18","x":0.2733,"y":0.79},{"b":"E18","x":0.3045,"y":0.81},{"b":"E18","x":0.3358,"y":0.83},{"b":"E18","x":0.367,"y":0.84},
{"b":"E18b","x":0.242,"y":0.73},{"b":"E18b","x":0.2733,"y":0.75},{"b":"E18b","x":0.3045,"y":0.77},{"b":"E18b","x":0.3358,"y":0.79},{"b":"E18b","x":0.367,"y":0.8},
{"b":"E19","x":0.242,"y":0.73},{"b":"E19","x":0.2733,"y":0.7},{"b":"E19","x":0.3045,"y":0.65},{"b":"E19","x":0.3358,"y":0.58},{"b":"E19","x":0.367,"y":0.54},
{"b":"E20","x":0.242,"y":0.65},{"b":"E20","x":0.367,"y":0.65},
{"b":"E21","x":0.242,"y":0.35},{"b":"E21","x":0.2733,"y":0.36},{"b":"E21","x":0.3045,"y":0.4},{"b":"E21","x":0.3358,"y":0.46},{"b":"E21","x":0.367,"y":0.5},
{"b":"E22","x":0.242,"y":0.62},{"b":"E22","x":0.2733,"y":0.64},{"b":"E22","x":0.3045,"y":0.65},{"b":"E22","x":0.3358,"y":0.65},{"b":"E22","x":0.367,"y":0.65},
{"b":"F1","x":0.367,"y":2.97},{"b":"F1","x":0.4098,"y":3.01},{"b":"F1","x":0.4525,"y":3.05},{"b":"F1","x":0.4953,"y":3.08},{"b":"F1","x":0.538,"y":3.09},
{"b":"F2","x":0.367,"y":2.97},{"b":"F2","x":0.4098,"y":2.94},{"b":"F2","x":0.4525,"y":2.91},{"b":"F2","x":0.4953,"y":2.88},{"b":"F2","x":0.538,"y":2.86},
{"b":"F3","x":0.367,"y":2.62},{"b":"F3","x":0.4098,"y":2.67},{"b":"F3","x":0.4525,"y":2.72},{"b":"F3","x":0.4953,"y":2.78},{"b":"F3","x":0.538,"y":2.82},
{"b":"F4","x":0.367,"y":2.62},{"b":"F4","x":0.538,"y":2.61},
{"b":"F5","x":0.367,"y":2.61},{"b":"F5","x":0.4098,"y":2.59},{"b":"F5","x":0.4525,"y":2.57},{"b":"F5","x":0.4953,"y":2.56},{"b":"F5","x":0.538,"y":2.55},
{"b":"F6","x":0.367,"y":2.52},{"b":"F6","x":0.538,"y":2.51},
{"b":"F7","x":0.367,"y":2.44},{"b":"F7","x":0.4098,"y":2.45},{"b":"F7","x":0.4525,"y":2.46},{"b":"F7","x":0.4953,"y":2.47},{"b":"F7","x":0.538,"y":2.47},
{"b":"F8","x":0.367,"y":2.44},{"b":"F8","x":0.4098,"y":2.42},{"b":"F8","x":0.4525,"y":2.4},{"b":"F8","x":0.4953,"y":2.38},{"b":"F8","x":0.538,"y":2.37},
{"b":"F9","x":0.367,"y":2.3},{"b":"F9","x":0.538,"y":2.3},
{"b":"F10","x":0.367,"y":2.14},{"b":"F10","x":0.4098,"y":2.11},{"b":"F10","x":0.4525,"y":2.02},{"b":"F10","x":0.4953,"y":1.99},{"b":"F10","x":0.538,"y":1.97},
{"b":"F11","x":0.367,"y":2.14},{"b":"F11","x":0.4098,"y":2.1},{"b":"F11","x":0.4525,"y":2.03},{"b":"F11","x":0.4953,"y":2.05},{"b":"F11","x":0.538,"y":2.07},
{"b":"F12","x":0.367,"y":1.84},{"b":"F12","x":0.4098,"y":1.86},{"b":"F12","x":0.4525,"y":1.88},{"b":"F12","x":0.4953,"y":1.89},{"b":"F12","x":0.538,"y":1.9},
{"b":"F13","x":0.367,"y":1.77},{"b":"F13","x":0.538,"y":1.79},
{"b":"F14","x":0.367,"y":1.69},{"b":"F14","x":0.538,"y":1.69},
{"b":"F15","x":0.367,"y":1.74},{"b":"F15","x":0.4098,"y":1.72},{"b":"F15","x":0.4525,"y":1.7},{"b":"F15","x":0.4953,"y":1.67},{"b":"F15","x":0.538,"y":1.66},
{"b":"F16","x":0.367,"y":1.48},{"b":"F16","x":0.4098,"y":1.56},{"b":"F16","x":0.4525,"y":1.57},{"b":"F16","x":0.4953,"y":1.56},{"b":"F16","x":0.538,"y":1.55},
{"b":"F17","x":0.367,"y":1.48},{"b":"F17","x":0.538,"y":1.49},
{"b":"F18","x":0.367,"y":1.46},{"b":"F18","x":0.4098,"y":1.44},{"b":"F18","x":0.4525,"y":1.41},{"b":"F18","x":0.4953,"y":1.39},{"b":"F18","x":0.538,"y":1.37},
{"b":"F19","x":0.367,"y":1.3},{"b":"F19","x":0.538,"y":1.3},
{"b":"F20","x":0.367,"y":1.42},{"b":"F20","x":0.4098,"y":1.43},{"b":"F20","x":0.4525,"y":1.42},{"b":"F20","x":0.4953,"y":1.4},{"b":"F20","x":0.538,"y":1.37},
{"b":"F21","x":0.367,"y":1.23},{"b":"F21","x":0.4098,"y":1.22},{"b":"F21","x":0.4525,"y":1.2},{"b":"F21","x":0.4953,"y":1.19},{"b":"F21","x":0.538,"y":1.18},
{"b":"F22","x":0.367,"y":1.16},{"b":"F22","x":0.4098,"y":1.14},{"b":"F22","x":0.4525,"y":1.11},{"b":"F22","x":0.4953,"y":1.1},{"b":"F22","x":0.538,"y":1.09},
{"b":"F23","x":0.367,"y":1.0},{"b":"F23","x":0.538,"y":1.02},
{"b":"F24","x":0.367,"y":1.0},{"b":"F24","x":0.538,"y":0.98},
{"b":"F25","x":0.367,"y":0.84},{"b":"F25","x":0.4098,"y":0.87},{"b":"F25","x":0.4525,"y":0.88},{"b":"F25","x":0.4953,"y":0.88},{"b":"F25","x":0.538,"y":0.88},
{"b":"F26","x":0.367,"y":0.8},{"b":"F26","x":0.4098,"y":0.81},{"b":"F26","x":0.4525,"y":0.82},{"b":"F26","x":0.4953,"y":0.83},{"b":"F26","x":0.538,"y":0.83},
{"b":"F27","x":0.367,"y":0.65},{"b":"F27","x":0.4098,"y":0.7},{"b":"F27","x":0.4525,"y":0.74},{"b":"F27","x":0.4953,"y":0.74},{"b":"F27","x":0.538,"y":0.74},
{"b":"F28","x":0.367,"y":0.65},{"b":"F28","x":0.538,"y":0.65},
{"b":"F29","x":0.367,"y":0.54},{"b":"F29","x":0.4098,"y":0.55},{"b":"F29","x":0.4525,"y":0.56},{"b":"F29","x":0.4953,"y":0.57},{"b":"F29","x":0.538,"y":0.57},
{"b":"F30","x":0.367,"y":0.5},{"b":"F30","x":0.4098,"y":0.49},{"b":"F30","x":0.4525,"y":0.47},{"b":"F30","x":0.4953,"y":0.41},{"b":"F30","x":0.538,"y":0.35},
{"b":"F31","x":0.367,"y":0.5},{"b":"F31","x":0.4098,"y":0.49},{"b":"F31","x":0.4525,"y":0.49},{"b":"F31","x":0.4953,"y":0.48},{"b":"F31","x":0.538,"y":0.48},
{"b":"F32","x":0.367,"y":0.5},{"b":"F32","x":0.4098,"y":0.47},{"b":"F32","x":0.4525,"y":0.44},{"b":"F32","x":0.4953,"y":0.38},{"b":"F32","x":0.538,"y":0.33},
{"b":"G1","x":0.538,"y":3.09},{"b":"G1","x":0.591,"y":3.06},{"b":"G1","x":0.644,"y":3.0},{"b":"G1","x":0.697,"y":2.93},{"b":"G1","x":0.75,"y":2.89},
{"b":"G2","x":0.538,"y":2.86},{"b":"G2","x":0.591,"y":2.83},{"b":"G2","x":0.644,"y":2.92},{"b":"G2","x":0.697,"y":3.02},{"b":"G2","x":0.75,"y":3.09},
{"b":"G3","x":0.538,"y":2.82},{"b":"G3","x":0.591,"y":2.77},{"b":"G3","x":0.644,"y":2.7},{"b":"G3","x":0.697,"y":2.62},{"b":"G3","x":0.75,"y":2.59},
{"b":"G4","x":0.538,"y":2.61},{"b":"G4","x":0.591,"y":2.65},{"b":"G4","x":0.644,"y":2.69},{"b":"G4","x":0.697,"y":2.7},{"b":"G4","x":0.75,"y":2.7},
{"b":"G5","x":0.538,"y":2.55},{"b":"G5","x":0.591,"y":2.56},{"b":"G5","x":0.644,"y":2.57},{"b":"G5","x":0.697,"y":2.58},{"b":"G5","x":0.75,"y":2.59},
{"b":"G6","x":0.538,"y":2.51},{"b":"G6","x":0.591,"y":2.5},{"b":"G6","x":0.644,"y":2.49},{"b":"G6","x":0.697,"y":2.48},{"b":"G6","x":0.75,"y":2.47},
{"b":"G7","x":0.538,"y":2.47},{"b":"G7","x":0.591,"y":2.42},{"b":"G7","x":0.644,"y":2.34},{"b":"G7","x":0.697,"y":2.25},{"b":"G7","x":0.75,"y":2.19},
{"b":"G8","x":0.538,"y":2.37},{"b":"G8","x":0.591,"y":2.36},{"b":"G8","x":0.644,"y":2.32},{"b":"G8","x":0.697,"y":2.25},{"b":"G8","x":0.75,"y":2.19},
{"b":"G9","x":0.538,"y":2.3},{"b":"G9","x":0.591,"y":2.22},{"b":"G9","x":0.644,"y":2.14},{"b":"G9","x":0.697,"y":2.07},{"b":"G9","x":0.75,"y":2.02},
{"b":"G10","x":0.538,"y":2.07},{"b":"G10","x":0.591,"y":2.06},{"b":"G10","x":0.644,"y":2.05},{"b":"G10","x":0.697,"y":2.03},{"b":"G10","x":0.75,"y":2.02},
{"b":"G11","x":0.538,"y":1.97},{"b":"G11","x":0.591,"y":1.95},{"b":"G11","x":0.644,"y":1.92},{"b":"G11","x":0.697,"y":1.91},{"b":"G11","x":0.75,"y":1.91},
{"b":"G12","x":0.538,"y":1.9},{"b":"G12","x":0.591,"y":1.88},{"b":"G12","x":0.644,"y":1.85},{"b":"G12","x":0.697,"y":1.82},{"b":"G12","x":0.75,"y":1.8},
{"b":"G13","x":0.538,"y":1.79},{"b":"G13","x":0.75,"y":1.8},
{"b":"G14","x":0.538,"y":1.69},{"b":"G14","x":0.591,"y":1.71},{"b":"G14","x":0.644,"y":1.68},{"b":"G14","x":0.697,"y":1.66},{"b":"G14","x":0.75,"y":1.67},
{"b":"G14b","x":0.538,"y":1.66},{"b":"G14b","x":0.591,"y":1.64},{"b":"G14b","x":0.644,"y":1.62},{"b":"G14b","x":0.697,"y":1.61},{"b":"G14b","x":0.75,"y":1.61},
{"b":"G15","x":0.538,"y":1.55},{"b":"G15","x":0.591,"y":1.57},{"b":"G15","x":0.644,"y":1.59},{"b":"G15","x":0.697,"y":1.6},{"b":"G15","x":0.75,"y":1.6},
{"b":"G16","x":0.538,"y":1.49},{"b":"G16","x":0.75,"y":1.5},
{"b":"G16b","x":0.538,"y":1.49},{"b":"G16b","x":0.591,"y":1.46},{"b":"G16b","x":0.644,"y":1.45},{"b":"G16b","x":0.697,"y":1.47},{"b":"G16b","x":0.75,"y":1.5},
{"b":"G17","x":0.538,"y":1.37},{"b":"G17","x":0.75,"y":1.35},
{"b":"G18","x":0.538,"y":1.3},{"b":"G18","x":0.591,"y":1.24},{"b":"G18","x":0.644,"y":1.19},{"b":"G18","x":0.697,"y":1.21},{"b":"G18","x":0.75,"y":1.23},
{"b":"G18b","x":0.538,"y":1.3},{"b":"G18b","x":0.591,"y":1.31},{"b":"G18b","x":0.644,"y":1.32},{"b":"G18b","x":0.697,"y":1.33},{"b":"G18b","x":0.75,"y":1.33},
{"b":"G19","x":0.538,"y":1.18},{"b":"G19","x":0.75,"y":1.17},
{"b":"G20","x":0.538,"y":1.09},{"b":"G20","x":0.75,"y":1.12},
{"b":"G21","x":0.538,"y":1.02},{"b":"G21","x":0.75,"y":1.0},
{"b":"G22","x":0.538,"y":0.98},{"b":"G22","x":0.75,"y":0.95},
{"b":"G23","x":0.538,"y":0.88},{"b":"G23","x":0.591,"y":0.87},{"b":"G23","x":0.644,"y":0.86},{"b":"G23","x":0.697,"y":0.88},{"b":"G23","x":0.75,"y":0.91},
{"b":"G24","x":0.538,"y":0.83},{"b":"G24","x":0.591,"y":0.81},{"b":"G24","x":0.644,"y":0.79},{"b":"G24","x":0.661,"y":0.76},{"b":"G24","x":0.6928,"y":0.54},{"b":"G24","x":0.75,"y":0},
{"b":"G25","x":0.538,"y":0.74},{"b":"G25","x":0.591,"y":0.77},{"b":"G25","x":0.644,"y":0.8},{"b":"G25","x":0.697,"y":0.83},{"b":"G25","x":0.75,"y":0.85},
{"b":"G26","x":0.538,"y":0.65},{"b":"G26","x":0.591,"y":0.66},{"b":"G26","x":0.644,"y":0.67},{"b":"G26","x":0.697,"y":0.69},{"b":"G26","x":0.75,"y":0.7},
{"b":"G27","x":0.538,"y":0.57},{"b":"G27","x":0.75,"y":0.58},
{"b":"G28","x":0.538,"y":0.48},{"b":"G28","x":0.591,"y":0.44},{"b":"G28","x":0.644,"y":0.38},{"b":"G28","x":0.697,"y":0.29},{"b":"G28","x":0.75,"y":0.2},
{"b":"G29","x":0.538,"y":0.35},{"b":"G29","x":0.591,"y":0.31},{"b":"G29","x":0.644,"y":0.25},{"b":"G29","x":0.697,"y":0.14},{"b":"G29","x":0.75,"y":0},
{"b":"G30","x":0.538,"y":0.33},{"b":"G30","x":0.591,"y":0.28},{"b":"G30","x":0.644,"y":0.21},{"b":"G30","x":0.697,"y":0.11},{"b":"G30","x":0.75,"y":0},
{"b":"H1","x":0.75,"y":3.09},{"b":"H1","x":0.8125,"y":2.88},{"b":"H1","x":0.875,"y":2.53},{"b":"H1","x":0.9375,"y":2.6},{"b":"H1","x":1,"y":2.92},
{"b":"H2","x":0.75,"y":2.88},{"b":"H2","x":0.8125,"y":2.98},{"b":"H2","x":0.875,"y":3.07},{"b":"H2","x":0.9375,"y":3.1},{"b":"H2","x":1,"y":2.92},
{"b":"H3","x":0.75,"y":2.7},{"b":"H3","x":0.8125,"y":2.69},{"b":"H3","x":0.875,"y":2.66},{"b":"H3","x":0.9375,"y":2.66},{"b":"H3","x":1,"y":2.71},
{"b":"H4","x":0.75,"y":2.59},{"b":"H4","x":0.8125,"y":2.66},{"b":"H4","x":0.875,"y":2.8},{"b":"H4","x":0.9375,"y":2.87},{"b":"H4","x":1,"y":2.76},
{"b":"H5","x":0.75,"y":2.59},{"b":"H5","x":0.8125,"y":2.61},{"b":"H5","x":0.875,"y":2.63},{"b":"H5","x":0.9375,"y":2.61},{"b":"H5","x":1,"y":2.56},
{"b":"H6","x":0.75,"y":2.47},{"b":"H6","x":0.8125,"y":2.48},{"b":"H6","x":0.875,"y":2.43},{"b":"H6","x":0.9375,"y":2.39},{"b":"H6","x":1,"y":2.56},
{"b":"H7","x":0.75,"y":2.19},{"b":"H7","x":0.8125,"y":2.31},{"b":"H7","x":0.875,"y":2.35},{"b":"H7","x":0.9375,"y":2.32},{"b":"H7","x":1,"y":2.21},
{"b":"H8","x":0.75,"y":2.19},{"b":"H8","x":0.8125,"y":2.33},{"b":"H8","x":0.875,"y":2.39},{"b":"H8","x":0.9375,"y":2.38},{"b":"H8","x":1,"y":2.33},
{"b":"H9","x":0.75,"y":2.02},{"b":"H9","x":0.8125,"y":2.06},{"b":"H9","x":0.875,"y":2.09},{"b":"H9","x":0.9375,"y":2.1},{"b":"H9","x":1,"y":2.22},
{"b":"H10","x":0.75,"y":1.91},{"b":"H10","x":0.8125,"y":1.95},{"b":"H10","x":0.875,"y":1.99},{"b":"H10","x":0.9375,"y":2.06},{"b":"H10","x":1,"y":2.22},
{"b":"H11","x":0.75,"y":1.8},{"b":"H11","x":0.8125,"y":1.82},{"b":"H11","x":0.875,"y":1.85},{"b":"H11","x":0.9375,"y":1.88},{"b":"H11","x":1,"y":1.9},
{"b":"H12","x":0.75,"y":1.8},{"b":"H12","x":0.8125,"y":1.77},{"b":"H12","x":0.875,"y":1.74},{"b":"H12","x":0.9375,"y":1.71},{"b":"H12","x":1,"y":1.69},
{"b":"H13","x":0.75,"y":1.67},{"b":"H13","x":0.8125,"y":1.64},{"b":"H13","x":0.875,"y":1.6},{"b":"H13","x":0.9375,"y":1.58},{"b":"H13","x":1,"y":1.64},
{"b":"H14","x":0.75,"y":1.6},{"b":"H14","x":0.8125,"y":1.56},{"b":"H14","x":0.875,"y":1.51},{"b":"H14","x":0.9375,"y":1.44},{"b":"H14","x":1,"y":1.37},
{"b":"H15","x":0.75,"y":1.5},{"b":"H15","x":0.8125,"y":1.43},{"b":"H15","x":0.875,"y":1.37},{"b":"H15","x":0.9375,"y":1.33},{"b":"H15","x":1,"y":1.35},
{"b":"H16","x":0.75,"y":1.5},{"b":"H16","x":0.8125,"y":1.47},{"b":"H16","x":0.875,"y":1.52},{"b":"H16","x":0.9375,"y":1.56},{"b":"H16","x":1,"y":1.54},
{"b":"H17","x":0.75,"y":1.33},{"b":"H17","x":0.8125,"y":1.34},{"b":"H17","x":0.875,"y":1.33},{"b":"H17","x":0.9375,"y":1.3},{"b":"H17","x":1,"y":1.27},
{"b":"H18","x":0.75,"y":1.3},{"b":"H18","x":0.8125,"y":1.24},{"b":"H18","x":0.875,"y":1.18},{"b":"H18","x":0.9375,"y":1.1},{"b":"H18","x":1,"y":1.02},
{"b":"H19","x":0.75,"y":1.35},{"b":"H19","x":0.8125,"y":1.32},{"b":"H19","x":0.875,"y":1.33},{"b":"H19","x":0.9375,"y":1.35},{"b":"H19","x":1,"y":1.35},
{"b":"H20","x":0.75,"y":0.88},{"b":"H20","x":0.7875,"y":0.98},{"b":"H20","x":0.82,"y":1.18},{"b":"H20","x":0.845,"y":1.35},{"b":"H20","x":0.88,"y":1.69},{"b":"H20","x":0.9125,"y":1.85},{"b":"H20","x":0.9625,"y":1.67},{"b":"H20","x":1,"y":1.48},
{"b":"H21","x":0.75,"y":1.23},{"b":"H21","x":0.8125,"y":1.16},{"b":"H21","x":0.875,"y":1.11},{"b":"H21","x":0.9375,"y":1.05},{"b":"H21","x":1,"y":0.99},
{"b":"H22","x":0.75,"y":1.17},{"b":"H22","x":0.8125,"y":1.16},{"b":"H22","x":0.875,"y":1.16},{"b":"H22","x":0.9375,"y":1.14},{"b":"H22","x":1,"y":1.11},
{"b":"H23","x":0.75,"y":1.12},{"b":"H23","x":0.8125,"y":1.09},{"b":"H23","x":0.875,"y":1.04},{"b":"H23","x":0.9375,"y":0.98},{"b":"H23","x":1,"y":0.93},
{"b":"H24","x":0.75,"y":1.0},{"b":"H24","x":0.8125,"y":0.98},{"b":"H24","x":0.875,"y":0.92},{"b":"H24","x":0.9375,"y":0.85},{"b":"H24","x":1,"y":0.8},
{"b":"H25","x":0.75,"y":0.95},{"b":"H25","x":0.8125,"y":0.92},{"b":"H25","x":0.875,"y":0.87},{"b":"H25","x":0.9375,"y":0.81},{"b":"H25","x":1,"y":0.76},
{"b":"H26","x":0.75,"y":0.91},{"b":"H26","x":0.8125,"y":0.98},{"b":"H26","x":0.875,"y":1.01},{"b":"H26","x":0.9375,"y":1.02},{"b":"H26","x":1,"y":1.02},
{"b":"H27","x":0.75,"y":0.85},{"b":"H27","x":0.8125,"y":0.72},{"b":"H27","x":0.875,"y":0.66},{"b":"H27","x":0.9375,"y":0.65},{"b":"H27","x":1,"y":0.64},
{"b":"H28","x":0.75,"y":0.7},{"b":"H28","x":0.8125,"y":0.69},{"b":"H28","x":0.875,"y":0.72},{"b":"H28","x":0.9375,"y":0.75},{"b":"H28","x":1,"y":0.78},
{"b":"H29","x":0.75,"y":0.58},{"b":"H29","x":1,"y":0.58},
{"b":"H30","x":0.75,"y":0.2},{"b":"H30","x":0.8125,"y":0.25},{"b":"H30","x":0.875,"y":0.37},{"b":"H30","x":0.9375,"y":0.55},{"b":"H30","x":1,"y":0.74},
{"b":"H31","x":0.75,"y":0},{"b":"H31","x":0.7725,"y":0.26},{"b":"H31","x":0.795,"y":0.52},{"b":"H31","x":0.81,"y":0.64},{"b":"H31","x":0.875,"y":0.66},{"b":"H31","x":1,"y":0.64},
{"b":"H32","x":0.75,"y":0},{"b":"H32","x":0.8125,"y":0.15},{"b":"H32","x":0.875,"y":0.31},{"b":"H32","x":0.9375,"y":0.46},{"b":"H32","x":1,"y":0.54},
{"b":"H33","x":0.75,"y":0},{"b":"H33","x":0.8125,"y":0.13},{"b":"H33","x":0.875,"y":0.27},{"b":"H33","x":0.9375,"y":0.42},{"b":"H33","x":1,"y":0.54}
]
},
"layer": [
{
"data": {"name": "sym"},
"mark": {"type": "rule", "color": "black", "strokeWidth": 3.5},
"encoding": {
"x": {"field": "x", "type": "quantitative", "scale": {"domain": [0, 1], "nice": false, "zero": false},
"axis": {"values": [0, 0.242, 0.367, 0.538, 0.75, 1], "title": null, "domain": false, "grid": false, "tickSize": 28, "tickWidth": 5.5, "tickColor": "black",
"labelExpr": "datum.value < 0.1 ? 'Γ' : datum.value < 0.3 ? 'X' : datum.value < 0.45 ? 'P' : datum.value < 0.6 ? 'N' : datum.value < 0.9 ? 'Γ' : 'M'",
"labelFont": "Liberation Serif", "labelFontSize": 84, "labelColor": "black", "labelPadding": 20, "labelFlush": false, "labelOverlap": false, "labelBound": false,
"labelFontStyle": {"condition": {"test": "datum.value < 0.1 || (datum.value > 0.7 && datum.value < 0.9)", "value": "normal"}, "value": "italic"}}}
}
},
{
"data": {"name": "bands"},
"mark": {"type": "line", "color": "#ff0000", "strokeWidth": 5.5, "interpolate": "monotone"},
"encoding": {
"x": {"field": "x", "type": "quantitative", "scale": {"domain": [0, 1], "nice": false, "zero": false},
"axis": {"values": [0, 0.242, 0.367, 0.538, 0.75, 1], "title": null, "domain": false, "grid": false, "tickSize": 28, "tickWidth": 5.5, "tickColor": "black",
"labelExpr": "datum.value < 0.1 ? 'Γ' : datum.value < 0.3 ? 'X' : datum.value < 0.45 ? 'P' : datum.value < 0.6 ? 'N' : datum.value < 0.9 ? 'Γ' : 'M'",
"labelFont": "Liberation Serif", "labelFontSize": 84, "labelColor": "black", "labelPadding": 20, "labelFlush": false, "labelOverlap": false, "labelBound": false,
"labelFontStyle": {"condition": {"test": "datum.value < 0.1 || (datum.value > 0.7 && datum.value < 0.9)", "value": "normal"}, "value": "italic"}}},
"y": {"field": "y", "type": "quantitative", "scale": {"domain": [0, 10.3], "nice": false, "zero": false},
"axis": {"values": [0, 2, 4, 6, 8, 10], "format": "d", "title": "ν, THz", "titleFont": "Liberation Serif", "titleFontSize": 84, "titleFontWeight": "normal", "titleColor": "black", "titlePadding": 25,
"domain": false, "grid": false, "tickSize": 28, "tickWidth": 5.5, "tickColor": "black",
"labelFont": "Liberation Serif", "labelFontSize": 84, "labelColor": "black", "labelPadding": 32, "labelFlush": false, "labelOverlap": false, "labelBound": false}},
"detail": {"field": "b", "type": "nominal"}
}
}
]
}
